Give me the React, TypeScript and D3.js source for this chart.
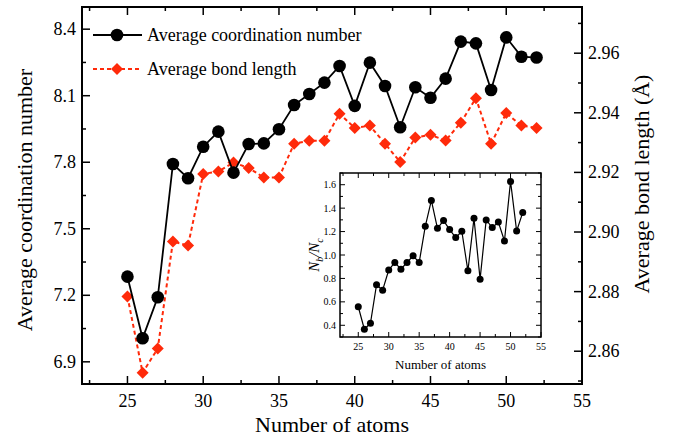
import * as d3 from "d3";
import { useEffect, useRef } from "react";

// values
const atoms = [25, 26, 27, 28, 29, 30, 31, 32, 33, 34, 35, 36, 37, 38, 39, 40, 41, 42, 43, 44, 45, 46, 47, 48, 49, 50, 51, 52];
const coordNumber = [7.284, 7.006, 7.191, 7.792, 7.728, 7.87, 7.938, 7.753, 7.882, 7.885, 7.949, 8.058, 8.108, 8.159, 8.234, 8.054, 8.249, 8.144, 7.958, 8.138, 8.091, 8.177, 8.344, 8.336, 8.126, 8.363, 8.276, 8.272];
const bondLength = [2.8784, 2.8528, 2.8609, 2.8968, 2.8955, 2.9195, 2.9203, 2.9233, 2.9215, 2.9183, 2.9183, 2.9296, 2.9306, 2.9306, 2.9397, 2.9349, 2.9357, 2.9296, 2.9235, 2.9317, 2.9326, 2.9307, 2.9367, 2.9449, 2.9296, 2.9399, 2.9357, 2.9349];
const ratioNbNc = [0.558, 0.366, 0.417, 0.746, 0.7, 0.871, 0.936, 0.879, 0.936, 0.993, 0.936, 1.245, 1.466, 1.228, 1.294, 1.217, 1.149, 1.203, 0.865, 1.313, 0.794, 1.299, 1.234, 1.282, 1.12, 1.628, 1.205, 1.362];

const xTicks = [25, 30, 35, 40, 45, 50, 55];
const xMinor = [22.5, 27.5, 32.5, 37.5, 42.5, 47.5, 52.5];
const leftTicks = [6.9, 7.2, 7.5, 7.8, 8.1, 8.4];
const leftMinor = [7.05, 7.35, 7.65, 7.95, 8.25];
const rightTicks = [2.86, 2.88, 2.9, 2.92, 2.94, 2.96];
const rightMinor = [2.85, 2.87, 2.89, 2.91, 2.93, 2.95, 2.97];
const insetYTicks = [0.4, 0.6, 0.8, 1.0, 1.2, 1.4, 1.6];
const insetYMinor = [0.3, 0.5, 0.7, 0.9, 1.1, 1.3, 1.5, 1.7];

const FONT = "'Liberation Serif', 'Times New Roman', serif";
const RED = "#ff2a0a";

const App = () => {
  const ref = useRef<SVGSVGElement>(null);

  useEffect(() => {
    const svg = d3.select(ref.current);
    svg.selectAll("*").remove();

    const left = 82, right = 582, top = 7, bottom = 384;
    const x = d3.scaleLinear().domain([22, 55]).range([left, right]);
    const yL = d3.scaleLinear().domain([6.8, 8.5]).range([bottom, top]);
    const yR = d3.scaleLinear().domain([2.849, 2.9755]).range([bottom, top]);

    const g = svg.append("g").attr("font-family", FONT);

    // ticks (all pointing inward)
    const tick = (sel, vals, fn) => {
      sel.selectAll(null).data(vals).enter().append("line")
        .attr("stroke", "#000").attr("stroke-width", 1.5)
        .each(function (d) {
          const c = fn(d);
          d3.select(this).attr("x1", c[0]).attr("y1", c[1]).attr("x2", c[2]).attr("y2", c[3]);
        });
    };
    tick(g, xTicks, (d) => [x(d), bottom, x(d), bottom - 8]);
    tick(g, xMinor, (d) => [x(d), bottom, x(d), bottom - 4]);
    tick(g, xTicks, (d) => [x(d), top, x(d), top + 8]);
    tick(g, xMinor, (d) => [x(d), top, x(d), top + 4]);
    tick(g, leftTicks, (d) => [left, yL(d), left + 8, yL(d)]);
    tick(g, leftMinor, (d) => [left, yL(d), left + 4, yL(d)]);
    tick(g, rightTicks, (d) => [right, yR(d), right - 8, yR(d)]);
    tick(g, rightMinor, (d) => [right, yR(d), right - 4, yR(d)]);

    g.append("rect").attr("x", left).attr("y", top).attr("width", right - left).attr("height", bottom - top)
      .attr("fill", "none").attr("stroke", "#000").attr("stroke-width", 2);

    g.selectAll(".xl").data(xTicks).enter().append("text")
      .attr("x", (d) => x(d)).attr("y", bottom + 23).attr("text-anchor", "middle")
      .attr("font-size", 18).text((d) => d);
    g.selectAll(".yl").data(leftTicks).enter().append("text")
      .attr("x", left - 6).attr("y", (d) => yL(d) + 6).attr("text-anchor", "end")
      .attr("font-size", 18).text((d) => d.toFixed(1));
    g.selectAll(".yr").data(rightTicks).enter().append("text")
      .attr("x", right + 6).attr("y", (d) => yR(d) + 6).attr("text-anchor", "start")
      .attr("font-size", 18).text((d) => d.toFixed(2));

    g.append("text").attr("x", (left + right) / 2).attr("y", 432).attr("text-anchor", "middle")
      .attr("font-size", 22).text("Number of atoms");
    g.append("text").attr("transform", "translate(32,200) rotate(-90)").attr("text-anchor", "middle")
      .attr("font-size", 22).text("Average coordination number");
    g.append("text").attr("transform", "translate(649,184) rotate(-90)").attr("text-anchor", "middle")
      .attr("font-size", 22).text("Average bond length (Å)");

    // series
    const lineL = d3.line<number>().x((d, i) => x(atoms[i])).y((d) => yL(d));
    const lineR = d3.line<number>().x((d, i) => x(atoms[i])).y((d) => yR(d));
    const diamond = (cx, cy, r) => `M${cx},${cy - r}L${cx + r},${cy}L${cx},${cy + r}L${cx - r},${cy}Z`;

    g.append("path").attr("d", lineR(bondLength)).attr("fill", "none")
      .attr("stroke", RED).attr("stroke-width", 2).attr("stroke-dasharray", "4,3");
    g.selectAll(".dm").data(bondLength).enter().append("path")
      .attr("d", (d, i) => diamond(x(atoms[i]), yR(d), 6)).attr("fill", RED);

    g.append("path").attr("d", lineL(coordNumber)).attr("fill", "none")
      .attr("stroke", "#000").attr("stroke-width", 1.8);
    g.selectAll(".ci").data(coordNumber).enter().append("circle")
      .attr("cx", (d, i) => x(atoms[i])).attr("cy", (d) => yL(d)).attr("r", 6.3).attr("fill", "#000");

    // legend
    g.append("line").attr("x1", 93).attr("x2", 142).attr("y1", 35).attr("y2", 35)
      .attr("stroke", "#000").attr("stroke-width", 1.8);
    g.append("circle").attr("cx", 117).attr("cy", 35).attr("r", 6.3).attr("fill", "#000");
    g.append("text").attr("x", 147).attr("y", 41).attr("font-size", 18).text("Average coordination number");
    g.append("line").attr("x1", 93).attr("x2", 142).attr("y1", 69).attr("y2", 69)
      .attr("stroke", RED).attr("stroke-width", 2).attr("stroke-dasharray", "4,3");
    g.append("path").attr("d", diamond(117, 69, 6)).attr("fill", RED);
    g.append("text").attr("x", 147).attr("y", 75).attr("font-size", 18).text("Average bond length");

    // inset
    const iL = 340, iR = 541, iT = 173, iB = 337;
    const ix = d3.scaleLinear().domain([22, 55]).range([iL, iR]);
    const iy = d3.scaleLinear().domain([0.3, 1.7]).range([iB, iT]);
    const ig = g.append("g");
    ig.append("rect").attr("x", iL).attr("y", iT).attr("width", iR - iL).attr("height", iB - iT)
      .attr("fill", "#fff").attr("stroke", "#000").attr("stroke-width", 1.5);
    tick(ig, xTicks, (d) => [ix(d), iB, ix(d), iB - 5]);
    tick(ig, xMinor, (d) => [ix(d), iB, ix(d), iB - 3]);
    tick(ig, xTicks, (d) => [ix(d), iT, ix(d), iT + 5]);
    tick(ig, xMinor, (d) => [ix(d), iT, ix(d), iT + 3]);
    tick(ig, insetYTicks, (d) => [iL, iy(d), iL + 5, iy(d)]);
    tick(ig, insetYMinor, (d) => [iL, iy(d), iL + 3, iy(d)]);
    tick(ig, insetYTicks, (d) => [iR, iy(d), iR - 5, iy(d)]);
    tick(ig, insetYMinor, (d) => [iR, iy(d), iR - 3, iy(d)]);
    ig.selectAll("line").attr("stroke-width", 1);

    ig.selectAll(".ixl").data(xTicks).enter().append("text")
      .attr("x", (d) => ix(d)).attr("y", iB + 13).attr("text-anchor", "middle")
      .attr("font-size", 10).text((d) => d);
    ig.selectAll(".iyl").data(insetYTicks).enter().append("text")
      .attr("x", iL - 4).attr("y", (d) => iy(d) + 3.5).attr("text-anchor", "end")
      .attr("font-size", 10).text((d) => d.toFixed(1));
    ig.append("text").attr("x", (iL + iR) / 2).attr("y", iB + 32).attr("text-anchor", "middle")
      .attr("font-size", 13).text("Number of atoms");
    const yt = ig.append("text").attr("transform", `translate(319,${(iT + iB) / 2}) rotate(-90)`)
      .attr("text-anchor", "middle").attr("font-size", 15).attr("font-style", "italic");
    yt.append("tspan").text("N");
    yt.append("tspan").attr("font-size", 10).attr("dy", 4).text("b");
    yt.append("tspan").attr("dy", -4).text("/N");
    yt.append("tspan").attr("font-size", 10).attr("dy", 4).text("c");

    const lineI = d3.line<number>().x((d, i) => ix(atoms[i])).y((d) => iy(d));
    ig.append("path").attr("d", lineI(ratioNbNc)).attr("fill", "none")
      .attr("stroke", "#000").attr("stroke-width", 1.2);
    ig.selectAll(".ic").data(ratioNbNc).enter().append("circle")
      .attr("cx", (d, i) => ix(atoms[i])).attr("cy", (d) => iy(d)).attr("r", 3.5).attr("fill", "#000");
  }, []);

  return (
    <svg ref={ref} width={673} height={438}
      style={{ position: "absolute", left: 0, top: 0, background: "#fff" }} />
  );
};

export default App;
